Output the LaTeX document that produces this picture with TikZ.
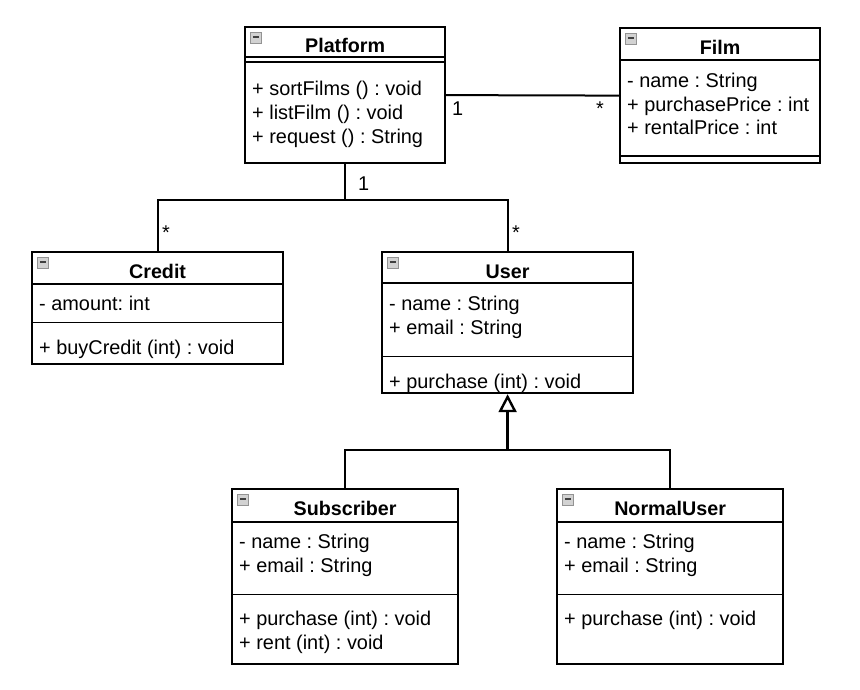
\documentclass[tikz,border=0pt]{standalone}
\usepackage{fontspec}
\setmainfont{Liberation Sans}
\usetikzlibrary{arrows.meta}
\frenchspacing
\tikzset{
  umlbox/.style={draw, line width=2.2pt, rectangle, inner sep=0pt, anchor=north west},
  hdrline/.style={line width=2pt},
  dblline/.style={line width=1.6pt},
  divline/.style={line width=1pt},
  ttl/.style={anchor=base, inner sep=0pt, font=\fontsize{19.7}{24}\selectfont\bfseries},
  attr/.style={anchor=base west, inner sep=0pt},
  mult/.style={anchor=base west, inner sep=0pt},
  conn/.style={line width=2pt},
  gen/.style={line width=2.4pt, -{Triangle[open, length=18pt, width=18pt, line width=2.4pt, fill=white]}},
  icon/.style={draw=gray!85, fill=gray!35, line width=0.8pt, minimum size=11pt, inner sep=0pt, text=black!75},
}
\newcommand{\iconminus}{\rule[2pt]{6.5pt}{1.8pt}}
\begin{document}
\frenchspacing
\begin{tikzpicture}[x=1pt, y=-1pt, font=\fontsize{19.9}{24}\selectfont\frenchspacing]
\useasboundingbox (0,0) rectangle (860,690);
\fill[white] (0,0) rectangle (860,690);

% ---------- Platform ----------
\node[umlbox, minimum width=200pt, minimum height=136pt] (platform) at (244,26) {};
\draw[hdrline] (platform.west |- 0,57) -- (platform.east |- 0,57);
\draw[dblline] (platform.west |- 0,62) -- (platform.east |- 0,62);
\node[icon] (platformicon) at ([shift={(12,12)}]platform.north west) {\iconminus};
\node[ttl] (platformtitle) at (platform.center |- 0,53) {Platform};
\node[attr] (p1) at (252,96) {+ sortFilms () : void};
\node[attr] (p2) at (252,120) {+ listFilm () : void};
\node[attr] (p3) at (252,144) {+ request () : String};

% ---------- Film ----------
\node[umlbox, minimum width=200pt, minimum height=135pt] (film) at (619,27) {};
\draw[hdrline] (film.west |- 0,60) -- (film.east |- 0,60);
\draw[dblline] (film.west |- 0,156) -- (film.east |- 0,156);
\node[icon] (filmicon) at ([shift={(12,12)}]film.north west) {\iconminus};
\node[ttl] (filmtitle) at (film.center |- 0,55) {Film};
\node[attr] (f1) at (627,88) {- name : String};
\node[attr] (f2) at (627,111.5) {+ purchasePrice : int};
\node[attr] (f3) at (627,135) {+ rentalPrice : int};

% ---------- Credit ----------
\node[umlbox, minimum width=251pt, minimum height=112pt] (credit) at (31,251) {};
\draw[hdrline] (credit.west |- 0,284) -- (credit.east |- 0,284);
\draw[divline] (credit.west |- 0,322) -- (credit.east |- 0,322);
\node[icon] (crediticon) at ([shift={(12,12)}]credit.north west) {\iconminus};
\node[ttl] (credittitle) at (credit.center |- 0,278) {Credit};
\node[attr] (c1) at (39,310) {- amount: int};
\node[attr] (c2) at (39,354) {+ buyCredit (int) : void};

% ---------- User ----------
\node[umlbox, minimum width=251pt, minimum height=141pt] (user) at (381,251) {};
\draw[hdrline] (user.west |- 0,283) -- (user.east |- 0,283);
\draw[divline] (user.west |- 0,356) -- (user.east |- 0,356);
\node[icon] (usericon) at ([shift={(12,12)}]user.north west) {\iconminus};
\node[ttl] (usertitle) at (user.center |- 0,278) {User};
\node[attr] (u1) at (389,310) {- name : String};
\node[attr] (u2) at (389,334) {+ email : String};
\node[attr] (u3) at (389,388) {+ purchase (int) : void};

% ---------- Subscriber ----------
\node[umlbox, minimum width=226pt, minimum height=175pt] (subscriber) at (231,488) {};
\draw[hdrline] (subscriber.west |- 0,522) -- (subscriber.east |- 0,522);
\draw[divline] (subscriber.west |- 0,594) -- (subscriber.east |- 0,594);
\node[icon] (subicon) at ([shift={(12,12)}]subscriber.north west) {\iconminus};
\node[ttl] (subtitle) at (subscriber.center |- 0,515) {Subscriber};
\node[attr] (s1) at (239,548) {- name : String};
\node[attr] (s2) at (239,572) {+ email : String};
\node[attr] (s3) at (239,625) {+ purchase (int) : void};
\node[attr] (s4) at (239,649) {+ rent (int) : void};

% ---------- NormalUser ----------
\node[umlbox, minimum width=226pt, minimum height=175pt] (normaluser) at (556,488) {};
\draw[hdrline] (normaluser.west |- 0,522) -- (normaluser.east |- 0,522);
\draw[divline] (normaluser.west |- 0,594) -- (normaluser.east |- 0,594);
\node[icon] (nuicon) at ([shift={(12,12)}]normaluser.north west) {\iconminus};
\node[ttl] (nutitle) at (normaluser.center |- 0,515) {NormalUser};
\node[attr] (n1) at (564,548) {- name : String};
\node[attr] (n2) at (564,572) {+ email : String};
\node[attr] (n3) at (564,625) {+ purchase (int) : void};

% ---------- Connectors ----------
\draw[conn] (platform.east) -- (film.west);
\node[mult] (m1) at (452,116) {1};
\node[mult] (m2) at (596,116) {*};

\coordinate (pj) at (platform.south |- 0,200);
\draw[conn] (platform.south) -- (pj) -| (credit.north);
\draw[conn] (pj) -| (user.north);
\node[mult] (m3) at (358,190) {1};
\node[mult] (m4) at (162,240) {*};
\node[mult] (m5) at (512,240) {*};

\coordinate (gj) at (user.south |- 0,450);
\draw[conn] (subscriber.north) |- (gj) -| (normaluser.north);
\draw[gen] (gj) -- (user.south);
\end{tikzpicture}
\end{document}
